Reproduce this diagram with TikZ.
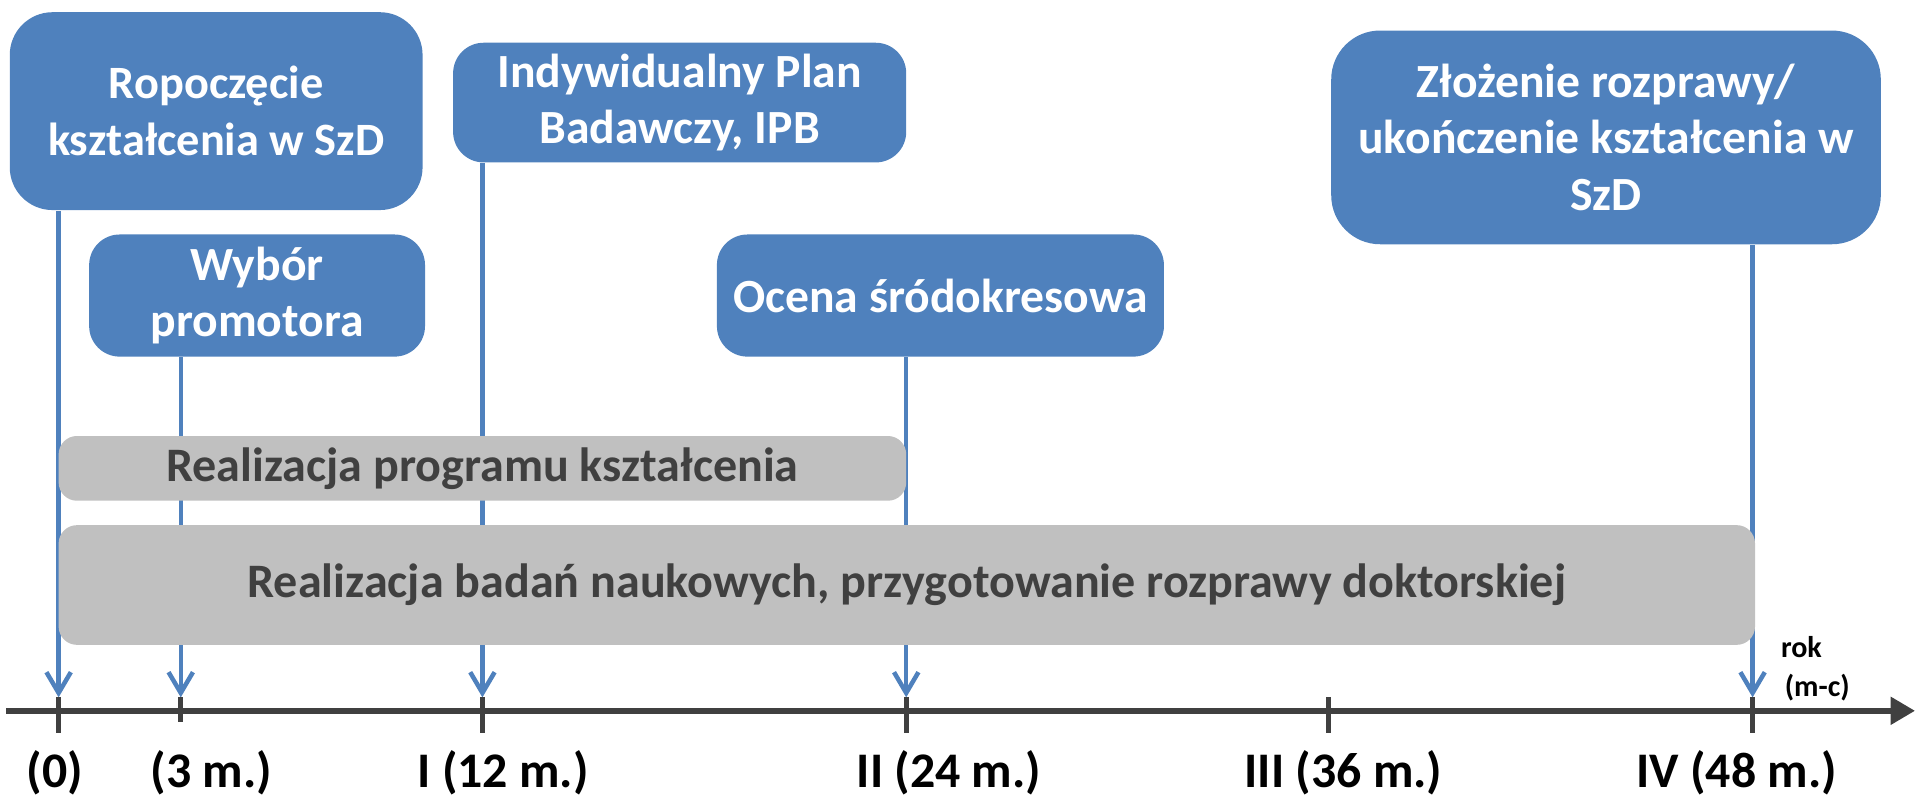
\documentclass[tikz,border=0pt]{standalone}
\usepackage{fontspec}
\setmainfont{Carlito}
\usetikzlibrary{arrows.meta}
\definecolor{boxblue}{HTML}{4F81BD}
\definecolor{bargrey}{HTML}{C0C0C0}
\definecolor{axisgrey}{HTML}{404040}
\tikzset{
  box/.style={fill=boxblue, rounded corners=2.5mm, text=white, align=center, inner sep=0pt,
    font=\fontsize{11.1}{13.2}\selectfont\bfseries},
  bar/.style={fill=bargrey, rounded corners=1.5mm, text=axisgrey, inner sep=0pt,
    font=\fontsize{11.2}{13.2}\selectfont\bfseries},
  link/.style={draw=boxblue, line width=1.05pt, -{Straight Barb[length=1.7mm,width=2mm,line width=1.05pt]}},
  tickmark/.style={draw=axisgrey, line width=1.1pt},
  lab/.style={font=\fontsize{11.6}{13}\selectfont\bfseries, text=black}
}
\begin{document}
\begin{tikzpicture}
	\useasboundingbox (0,0) rectangle (15.68,6.61);
	
	\node (rozp) at (1.77,5.70) [box, minimum width=3.38cm, minimum height=1.62cm, rounded corners=3.5mm, font=\fontsize{10.8}{13.2}\selectfont\bfseries] {Ropoczęcie\\kształcenia w SzD};
	\node (prom) at (2.105,4.19) [box, minimum width=2.75cm, minimum height=1.00cm] {Wybór\\promotora};
	\node (ipb) at (5.565,5.77) [box, minimum width=3.71cm, minimum height=0.98cm] {Indywidualny Plan\\Badawczy, IPB};
	\node (ocena) at (7.70,4.19) [box, minimum width=3.66cm, minimum height=1.00cm] {Ocena śródokresowa};
	\node (zloz) at (13.15,5.485) [box, minimum width=4.50cm, minimum height=1.75cm, rounded corners=4mm] {Złożenie rozprawy/\\ukończenie kształcenia w\\SzD};
	
	\coordinate (t0) at (0.48,0.90);
	\coordinate (t3) at (1.48,0.90);
	\coordinate (t12) at (3.95,0.90);
	\coordinate (t24) at (7.42,0.90);
	\coordinate (t36) at (10.88,0.90);
	\coordinate (t48) at (14.35,0.90);
	
	\draw[link] (rozp.south -| t0) -- (t0);
	\draw[link] (prom.south -| t3) -- (t3);
	\draw[link] (ipb.south -| t12) -- (t12);
	\draw[link] (ocena.south -| t24) -- (t24);
	\draw[link] (zloz.south -| t48) -- (t48);
	
	\node (prog) at (3.95,2.775) [bar, minimum width=6.94cm, minimum height=0.53cm] {Realizacja programu kształcenia};
	\node (badania) at (7.425,1.82) [bar, minimum width=13.89cm, minimum height=0.98cm] {Realizacja badań naukowych, przygotowanie rozprawy doktorskiej};
	
	\draw[axisgrey, line width=1.3pt, -{Triangle[length=2mm,width=2.2mm]}] (0.05,0.79) -- (15.68,0.79);
	\foreach \t in {t0,t12,t24,t36,t48}
		\draw[tickmark] (\t) -- ++(0,-0.29);
	\draw[tickmark] (t3) -- ++(0,-0.20);
	
	\node (l0) at (0.45,0.28) [lab] {(0)};
	\node (l3) at (1.73,0.28) [lab] {(3 m.)};
	\node (l12) at (4.12,0.28) [lab] {I (12 m.)};
	\node (l24) at (7.77,0.28) [lab] {II (24 m.)};
	\node (l36) at (11.00,0.28) [lab] {III (36 m.)};
	\node (l48) at (14.22,0.28) [lab] {IV (48 m.)};
	
	\node (rok) at (14.75,1.31) [font=\fontsize{7}{8}\selectfont\bfseries] {rok};
	\node (mc) at (14.88,0.98) [font=\fontsize{7}{8}\selectfont\bfseries] {(m-c)};
\end{tikzpicture}
\end{document}
